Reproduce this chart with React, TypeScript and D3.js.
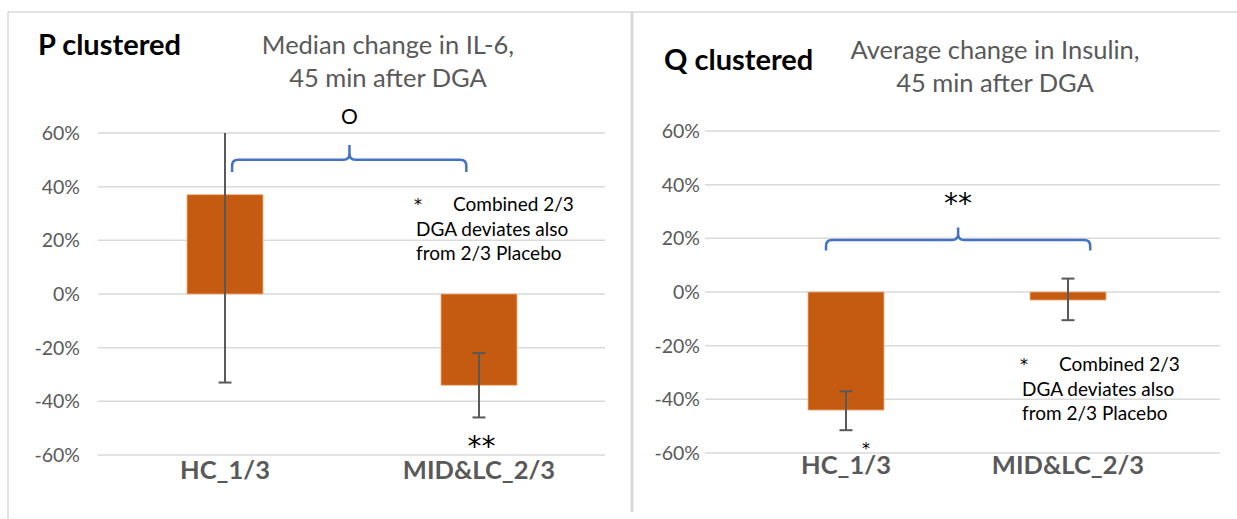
import React from "react";
import * as d3 from "d3";

// categories and values
const categories = ["HC_1/3", "MID&LC_2/3"];
const yTicks = [0.6, 0.4, 0.2, 0, -0.2, -0.4, -0.6];

const il6Values = [0.37, -0.34];
const il6ErrHigh = [0.75, -0.22];
const il6ErrLow = [-0.33, -0.46];

const insulinValues = [-0.44, -0.03];
const insulinErrHigh = [-0.37, 0.05];
const insulinErrLow = [-0.515, -0.105];

const noteLines = ["Combined 2/3", "DGA deviates also", "from 2/3 Placebo"];

const FONT = "Lato, 'Open Sans', sans-serif";
const STAR_FONT = "'DejaVu Sans', sans-serif";
const BAR = "#C55A11";
const GRID = "#d9d9d9";
const AXIS_TEXT = "#595959";
const BRACE = "#4472C4";

const pct = (t: number) => `${Math.round(t * 100)}%`;

type Mark = { text: string; pos: number; y: number; size: number; font?: string };

type PanelProps = {
  title: string;
  subtitle: string[];
  values: number[];
  errHigh: number[];
  errLow: number[];
  gridX: [number, number];
  bandX: [number, number];
  yRange: [number, number];
  labelRight: number;
  titleX: number;
  titleY: number;
  subX: number;
  subY: number;
  // bracket: [left, mid, right] as fractional category index, [end, line, peak] in data units
  braceX: [number, number, number];
  braceY: [number, number, number];
  sig: Mark;
  barSig: Mark;
  note: { x: number; y: number };
  xLabelY: number;
};

const Panel: React.FC<PanelProps> = (p) => {
  const y = d3.scaleLinear().domain([-0.6, 0.6]).range(p.yRange);
  const yc = y.copy().clamp(true);
  const x = d3.scaleBand<string>().domain(categories).range(p.bandX);
  const bw = x.bandwidth();
  const barW = 76;
  const cx = (i: number) => x(categories[0])! + bw / 2 + i * bw;

  const [bl, bm, br] = p.braceX.map(cx);
  const [yEnd, yLine, yPeak] = p.braceY.map((v) => y(v));
  const r = 6;
  const brace = d3.path();
  brace.moveTo(bl, yEnd);
  brace.lineTo(bl, yLine + r);
  brace.quadraticCurveTo(bl, yLine, bl + r, yLine);
  brace.lineTo(bm - r, yLine);
  brace.quadraticCurveTo(bm, yLine, bm, yLine - r);
  brace.lineTo(bm, yPeak);
  brace.moveTo(bm, yLine - r);
  brace.quadraticCurveTo(bm, yLine, bm + r, yLine);
  brace.lineTo(br - r, yLine);
  brace.quadraticCurveTo(br, yLine, br, yLine + r);
  brace.lineTo(br, yEnd);

  return (
    <g fontFamily={FONT}>
      <text x={p.titleX} y={p.titleY} fontSize={29} fontWeight="bold" fill="#000">
        {p.title}
      </text>
      {p.subtitle.map((s, i) => (
        <text key={i} x={p.subX} y={p.subY + i * 33} fontSize={25.5} fill={AXIS_TEXT} textAnchor="middle">
          {s}
        </text>
      ))}

      {yTicks.map((t) => (
        <g key={t}>
          <line x1={p.gridX[0]} x2={p.gridX[1]} y1={y(t)} y2={y(t)} stroke={GRID} strokeWidth={1.5} />
          <text x={p.labelRight} y={y(t) + 7} fontSize={19.5} fill={AXIS_TEXT} textAnchor="end">
            {pct(t)}
          </text>
        </g>
      ))}

      {categories.map((c, i) => {
        const v = p.values[i];
        const top = y(Math.max(0, v));
        const bot = y(Math.min(0, v));
        const hi = p.errHigh[i];
        const lo = p.errLow[i];
        return (
          <g key={c}>
            <rect x={cx(i) - barW / 2} y={top} width={barW} height={bot - top} fill={BAR} stroke="#f4b183" strokeWidth={0.8} />
            <line x1={cx(i)} x2={cx(i)} y1={yc(hi)} y2={yc(lo)} stroke={AXIS_TEXT} strokeWidth={2} />
            {hi <= 0.6 && (
              <line x1={cx(i) - 6.5} x2={cx(i) + 6.5} y1={y(hi)} y2={y(hi)} stroke={AXIS_TEXT} strokeWidth={2} />
            )}
            <line x1={cx(i) - 6.5} x2={cx(i) + 6.5} y1={y(lo)} y2={y(lo)} stroke={AXIS_TEXT} strokeWidth={2} />
            <text x={cx(i)} y={p.xLabelY} fontSize={25.5} fontWeight="bold" fill={AXIS_TEXT} textAnchor="middle">
              {c}
            </text>
          </g>
        );
      })}

      <path d={brace.toString()} fill="none" stroke={BRACE} strokeWidth={2.5} />
      {[p.sig, p.barSig].map((m, i) => (
        <text key={i} x={cx(m.pos)} y={y(m.y)} fontSize={m.size} fontFamily={m.font ?? FONT} fill="#000" textAnchor="middle">
          {m.text}
        </text>
      ))}

      <text x={p.note.x - 2} y={p.note.y - 1.5} fontSize={16} fontFamily={STAR_FONT} fill="#000">
        *
      </text>
      {noteLines.map((l, i) => (
        <text key={i} x={i === 0 ? p.note.x + 37 : p.note.x} y={p.note.y + i * 24.5} fontSize={19} fill="#000">
          {l}
        </text>
      ))}
    </g>
  );
};

export default function App() {
  return (
    <svg width={1237} height={519} style={{ position: "absolute", left: 0, top: 0, background: "#fff" }}>
      <rect width={1237} height={519} fill="#fff" />
      <line x1={8} x2={1237} y1={12} y2={12} stroke={GRID} strokeWidth={1.5} />
      <line x1={8} x2={8} y1={12} y2={519} stroke={GRID} strokeWidth={1.5} />
      <line x1={632} x2={632} y1={12} y2={512} stroke={GRID} strokeWidth={3} />

      <Panel
        title="P clustered"
        subtitle={["Median change in IL-6,", "45 min after DGA"]}
        values={il6Values}
        errHigh={il6ErrHigh}
        errLow={il6ErrLow}
        gridX={[98, 605]}
        bandX={[98, 606]}
        yRange={[455, 133]}
        labelRight={80}
        titleX={38}
        titleY={55}
        subX={388}
        subY={54}
        braceX={[0.028, 0.49, 0.95]}
        braceY={[0.455, 0.5, 0.555]}
        sig={{ text: "O", pos: 0.49, y: 0.635, size: 21 }}
        barSig={{ text: "**", pos: 1.01, y: -0.605, size: 28, font: STAR_FONT }}
        note={{ x: 416, y: 211 }}
        xLabelY={479}
      />
      <Panel
        title="Q clustered"
        subtitle={["Average change in Insulin,", "45 min after DGA"]}
        values={insulinValues}
        errHigh={insulinErrHigh}
        errLow={insulinErrLow}
        gridX={[705, 1220]}
        bandX={[735, 1179]}
        yRange={[453, 131]}
        labelRight={700}
        titleX={664}
        titleY={70}
        subX={995}
        subY={59}
        braceX={[-0.09, 0.505, 1.1]}
        braceY={[0.155, 0.194, 0.24]}
        sig={{ text: "**", pos: 0.505, y: 0.295, size: 28, font: STAR_FONT }}
        barSig={{ text: "*", pos: 0.09, y: -0.6037, size: 16, font: STAR_FONT }}
        note={{ x: 1022, y: 371 }}
        xLabelY={474}
      />
    </svg>
  );
}
